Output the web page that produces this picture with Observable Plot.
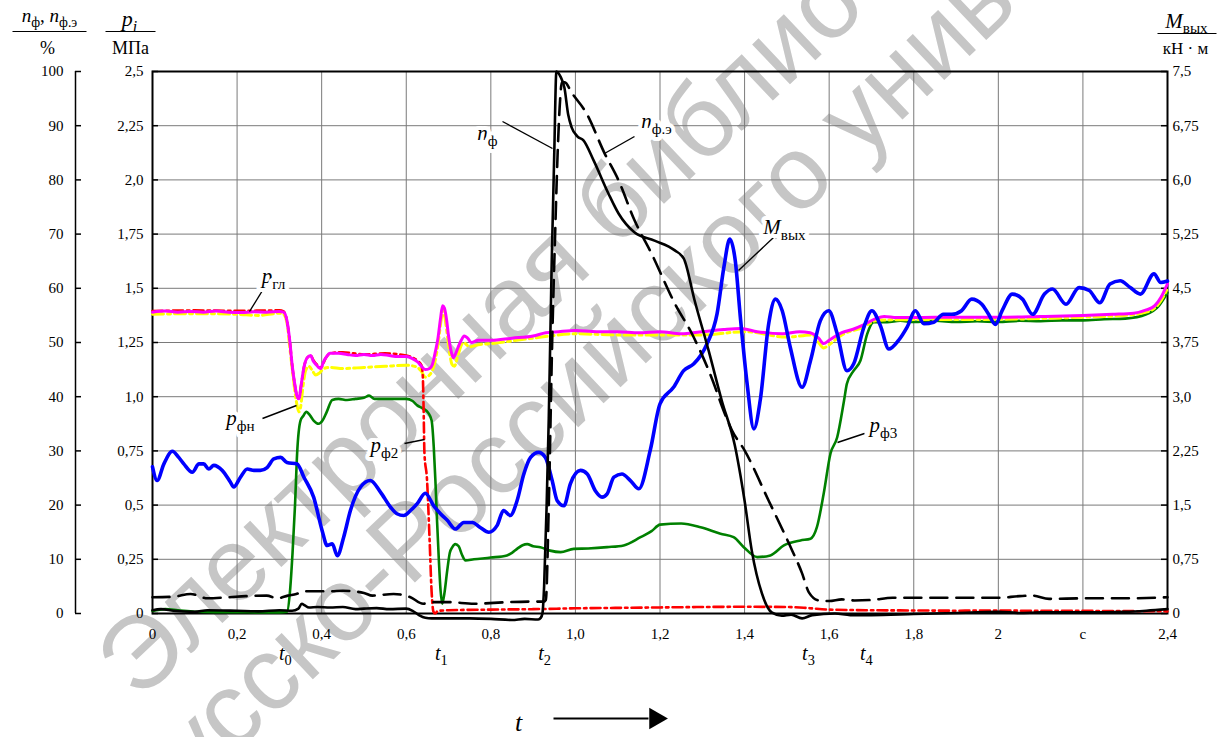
<!DOCTYPE html>
<html><head><meta charset="utf-8">
<script src="https://cdn.jsdelivr.net/npm/d3@7"></script>
<script src="https://cdn.jsdelivr.net/npm/@observablehq/plot@0.6"></script>
<style>html,body{margin:0;padding:0;background:#fff;overflow:hidden}#chart svg{display:block}</style>
</head><body><div id="chart"></div>
<script>
// ---------- data (t in s; pressures in MPa; n in %; torque in kN·m) ----------
const xTicks = [0,0.2,0.4,0.6,0.8,1.0,1.2,1.4,1.6,1.8,2.0,2.2,2.4];
const xTickLabels = ["0","0,2","0,4","0,6","0,8","1,0","1,2","1,4","1,6","1,8","2","с","2,4"];
const pctTicks = [0,10,20,30,40,50,60,70,80,90,100];
const pTicks = [0,0.25,0.5,0.75,1.0,1.25,1.5,1.75,2.0,2.25,2.5];
const pTickLabels = ["0","0,25","0,5","0,75","1,0","1,25","1,5","1,75","2,0","2,25","2,5"];
const mTicks = [0,0.75,1.5,2.25,3.0,3.75,4.5,5.25,6.0,6.75,7.5];
const mTickLabels = ["0","0,75","1,5","2,25","3,0","3,75","4,5","5,25","6,0","6,75","7,5"];
const tMarks = [["t_{0}",0.314],["t_{1}",0.683],["t_{2}",0.927],["t_{3}",1.551],["t_{4}",1.688]];

// p_гл (magenta), MPa
const pGl = [[0,1.39],[0.03,1.395],[0.06,1.39],[0.09,1.393],[0.12,1.39],[0.15,1.395],[0.18,1.39],[0.21,1.388],[0.24,1.392],[0.27,1.39],[0.30,1.393],[0.31,1.39],[0.318,1.35],[0.325,1.25],[0.330,1.15],[0.337,1.05],[0.342,1.0],[0.346,0.99],[0.352,1.06],[0.358,1.135],[0.366,1.18],[0.374,1.19],[0.380,1.165],[0.386,1.15],[0.393,1.135],[0.398,1.13],[0.404,1.16],[0.410,1.18],[0.420,1.20],[0.44,1.20],[0.46,1.195],[0.48,1.19],[0.50,1.195],[0.52,1.19],[0.54,1.195],[0.56,1.19],[0.58,1.185],[0.60,1.185],[0.615,1.175],[0.627,1.16],[0.636,1.14],[0.645,1.125],[0.655,1.13],[0.662,1.15],[0.668,1.20],[0.675,1.27],[0.681,1.36],[0.686,1.42],[0.690,1.41],[0.695,1.36],[0.700,1.28],[0.706,1.21],[0.711,1.18],[0.717,1.20],[0.723,1.23],[0.73,1.26],[0.737,1.28],[0.745,1.27],[0.754,1.25],[0.762,1.255],[0.77,1.26],[0.80,1.26],[0.85,1.27],[0.9,1.28],[0.93,1.295],[0.96,1.30],[1.0,1.305],[1.05,1.30],[1.1,1.30],[1.15,1.295],[1.2,1.30],[1.25,1.29],[1.3,1.30],[1.35,1.31],[1.39,1.315],[1.43,1.30],[1.49,1.29],[1.53,1.30],[1.555,1.295],[1.575,1.27],[1.587,1.245],[1.60,1.26],[1.63,1.296],[1.655,1.31],[1.68,1.33],[1.71,1.36],[1.73,1.37],[1.76,1.365],[1.8,1.365],[1.9,1.367],[2.0,1.366],[2.1,1.37],[2.2,1.375],[2.27,1.38],[2.32,1.385],[2.35,1.40],[2.37,1.42],[2.385,1.46],[2.395,1.5],[2.4,1.52]];
// p_фн (yellow dash-dot), MPa
const pFn = [[0,1.38],[0.1,1.383],[0.2,1.38],[0.25,1.375],[0.3,1.385],[0.31,1.38],[0.318,1.34],[0.325,1.22],[0.332,1.10],[0.340,0.98],[0.346,0.93],[0.350,0.95],[0.356,1.05],[0.362,1.12],[0.370,1.14],[0.378,1.12],[0.386,1.10],[0.395,1.11],[0.405,1.13],[0.42,1.135],[0.45,1.13],[0.5,1.135],[0.55,1.14],[0.6,1.145],[0.62,1.14],[0.635,1.12],[0.645,1.09],[0.655,1.10],[0.665,1.14],[0.675,1.24],[0.683,1.36],[0.688,1.40],[0.694,1.33],[0.700,1.24],[0.708,1.15],[0.714,1.14],[0.722,1.19],[0.735,1.25],[0.75,1.23],[0.77,1.24],[0.8,1.245],[0.9,1.27],[1.0,1.29],[1.1,1.285],[1.2,1.285],[1.3,1.285],[1.4,1.30],[1.5,1.275],[1.56,1.285],[1.575,1.25],[1.587,1.225],[1.6,1.24],[1.63,1.285],[1.68,1.32],[1.71,1.35],[1.76,1.355],[2.0,1.357],[2.2,1.367],[2.3,1.375],[2.35,1.39],[2.38,1.43],[2.4,1.50]];
// p_ф2 (red dash-dot), MPa
const pF2 = [[0,1.395],[0.1,1.398],[0.2,1.396],[0.3,1.398],[0.31,1.393],[0.318,1.35],[0.325,1.25],[0.33,1.15],[0.337,1.05],[0.342,1.0],[0.346,0.995],[0.352,1.06],[0.358,1.135],[0.366,1.18],[0.374,1.19],[0.38,1.17],[0.39,1.145],[0.398,1.135],[0.41,1.18],[0.42,1.20],[0.45,1.205],[0.5,1.195],[0.55,1.20],[0.6,1.19],[0.615,1.18],[0.627,1.165],[0.636,1.145],[0.639,1.10],[0.641,0.95],[0.643,0.74],[0.649,0.62],[0.655,0.35],[0.660,0.10],[0.664,0.01],[0.668,0.0],[0.675,0.012],[0.7,0.015],[0.8,0.018],[0.9,0.02],[1.0,0.024],[1.1,0.026],[1.2,0.028],[1.3,0.03],[1.4,0.031],[1.5,0.03],[1.55,0.025],[1.6,0.018],[1.7,0.015],[1.8,0.014],[1.9,0.013],[2.0,0.014],[2.1,0.012],[2.2,0.012],[2.3,0.011],[2.4,0.01]];
// p_ф3 (green), MPa
const pF3 = [[0,0.012],[0.03,0.02],[0.06,0.015],[0.1,0.008],[0.15,0.006],[0.2,0.006],[0.25,0.005],[0.3,0.005],[0.318,0.008],[0.325,0.1],[0.331,0.275],[0.337,0.5],[0.342,0.74],[0.350,0.89],[0.356,0.91],[0.364,0.93],[0.372,0.915],[0.381,0.89],[0.393,0.875],[0.402,0.89],[0.412,0.93],[0.425,0.985],[0.44,0.99],[0.46,0.985],[0.48,0.99],[0.5,0.995],[0.512,1.005],[0.525,0.99],[0.55,0.99],[0.6,0.99],[0.615,0.98],[0.626,0.96],[0.64,0.945],[0.652,0.925],[0.66,0.89],[0.665,0.77],[0.669,0.61],[0.673,0.42],[0.677,0.25],[0.681,0.11],[0.685,0.045],[0.690,0.09],[0.697,0.2],[0.703,0.28],[0.709,0.306],[0.716,0.32],[0.724,0.31],[0.732,0.27],[0.74,0.245],[0.76,0.25],[0.8,0.258],[0.838,0.268],[0.85,0.28],[0.862,0.298],[0.875,0.315],[0.886,0.32],[0.9,0.31],[0.917,0.306],[0.94,0.29],[0.965,0.283],[0.996,0.298],[1.03,0.30],[1.075,0.306],[1.114,0.314],[1.154,0.352],[1.18,0.38],[1.2,0.41],[1.25,0.415],[1.296,0.398],[1.343,0.368],[1.374,0.352],[1.398,0.306],[1.43,0.26],[1.461,0.268],[1.493,0.314],[1.532,0.337],[1.556,0.345],[1.571,0.398],[1.587,0.552],[1.603,0.737],[1.619,0.813],[1.635,0.98],[1.642,1.06],[1.658,1.12],[1.674,1.167],[1.69,1.29],[1.705,1.344],[1.737,1.344],[1.768,1.35],[1.8,1.345],[1.85,1.35],[1.9,1.345],[1.95,1.348],[2.0,1.345],[2.05,1.35],[2.1,1.348],[2.15,1.352],[2.2,1.352],[2.25,1.357],[2.3,1.36],[2.35,1.38],[2.38,1.42],[2.4,1.48]];
// M_вых (blue), kN·m
const mOut = [[0,2.03],[0.011,1.84],[0.027,2.07],[0.047,2.245],[0.062,2.16],[0.074,2.07],[0.094,1.955],[0.11,2.07],[0.121,2.07],[0.133,2.0],[0.145,2.05],[0.165,1.98],[0.184,1.82],[0.192,1.75],[0.208,1.886],[0.224,2.0],[0.24,1.98],[0.255,1.98],[0.271,2.02],[0.287,2.14],[0.303,2.16],[0.318,2.09],[0.342,2.07],[0.358,1.886],[0.381,1.61],[0.401,1.15],[0.413,0.94],[0.425,0.964],[0.437,0.80],[0.452,1.056],[0.468,1.425],[0.492,1.75],[0.515,1.84],[0.539,1.68],[0.563,1.47],[0.578,1.38],[0.594,1.356],[0.61,1.425],[0.626,1.52],[0.645,1.665],[0.665,1.49],[0.681,1.38],[0.697,1.29],[0.716,1.17],[0.736,1.26],[0.756,1.26],[0.775,1.19],[0.795,1.125],[0.815,1.22],[0.83,1.425],[0.846,1.356],[0.862,1.56],[0.878,1.93],[0.894,2.16],[0.913,2.23],[0.929,2.16],[0.945,1.84],[0.957,1.56],[0.973,1.49],[0.988,1.795],[1.012,1.98],[1.028,1.93],[1.047,1.70],[1.063,1.61],[1.075,1.656],[1.091,1.886],[1.11,1.93],[1.13,1.84],[1.15,1.726],[1.177,2.26],[1.2,2.9],[1.232,3.13],[1.256,3.36],[1.28,3.455],[1.311,3.73],[1.335,4.15],[1.351,4.79],[1.365,5.18],[1.378,4.88],[1.39,4.1],[1.406,3.18],[1.422,2.555],[1.437,2.95],[1.457,4.01],[1.473,4.35],[1.489,4.19],[1.508,3.685],[1.536,3.13],[1.556,3.5],[1.579,4.05],[1.599,4.19],[1.619,3.87],[1.642,3.36],[1.658,3.455],[1.682,3.96],[1.701,4.19],[1.721,3.985],[1.741,3.66],[1.764,3.78],[1.784,3.96],[1.804,4.19],[1.824,4.01],[1.847,4.03],[1.87,4.14],[1.89,4.14],[1.913,4.19],[1.937,4.35],[1.961,4.28],[1.977,4.14],[1.993,4.0],[2.009,4.19],[2.033,4.42],[2.057,4.35],[2.081,4.14],[2.109,4.42],[2.128,4.49],[2.16,4.28],[2.191,4.51],[2.215,4.47],[2.24,4.3],[2.264,4.56],[2.288,4.605],[2.312,4.51],[2.336,4.42],[2.368,4.70],[2.384,4.58],[2.4,4.6]];
// n_ф (black solid), %
const nF = [[0,0.6],[0.02,0.8],[0.05,0.5],[0.1,0.3],[0.13,0.6],[0.2,0.5],[0.25,0.4],[0.3,0.6],[0.33,0.5],[0.345,0.9],[0.353,1.8],[0.36,1.5],[0.37,1.1],[0.39,1.2],[0.42,1.1],[0.45,1.2],[0.48,0.8],[0.5,0.9],[0.53,1.0],[0.56,0.8],[0.6,0.9],[0.615,0.5],[0.63,-0.3],[0.645,-0.8],[0.66,-0.9],[0.7,-0.9],[0.75,-0.9],[0.8,-1.0],[0.85,-1.2],[0.88,-1.0],[0.912,-1.1],[0.918,-0.8],[0.922,0],[0.926,5],[0.932,20],[0.937,36],[0.944,65],[0.950,85],[0.955,100],[0.965,99],[0.974,97],[0.983,92],[0.991,89.7],[1.005,88],[1.019,87.3],[1.043,83.6],[1.078,77.5],[1.102,73.8],[1.14,70.3],[1.187,68.8],[1.235,67.0],[1.256,65.5],[1.282,57.7],[1.315,48.5],[1.346,39.3],[1.377,31],[1.40,20.8],[1.417,11.6],[1.441,3.7],[1.464,0.2],[1.488,-0.4],[1.51,-0.2],[1.536,-0.9],[1.56,-0.3],[1.614,0],[1.65,-0.3],[1.7,-0.3],[1.8,-0.1],[1.9,0.1],[2.0,0.3],[2.05,0.1],[2.1,0.2],[2.2,0.2],[2.3,0.3],[2.35,0.5],[2.4,0.8]];
// n_ф.э (black dashed), %
const nFe = [[0,3.0],[0.05,3.1],[0.09,3.6],[0.13,2.8],[0.18,3.0],[0.22,3.2],[0.27,3.3],[0.295,2.8],[0.32,3.3],[0.34,3.6],[0.36,4.1],[0.42,4.1],[0.45,4.2],[0.5,3.8],[0.52,3.3],[0.57,3.6],[0.61,3.0],[0.64,1.8],[0.665,2.1],[0.7,2.1],[0.76,1.8],[0.84,2.1],[0.9,2.2],[0.925,2.2],[0.93,2.5],[0.937,20],[0.945,50],[0.952,70],[0.958,85],[0.964,95],[0.968,98],[0.975,98],[0.991,96.1],[1.026,92.3],[1.069,84.9],[1.102,79.9],[1.14,72.5],[1.18,66.4],[1.235,57.2],[1.275,51.7],[1.322,43.5],[1.353,36.9],[1.37,33.8],[1.40,30.1],[1.457,20.8],[1.505,12.9],[1.536,7.4],[1.552,3.9],[1.576,2.4],[1.6,2.3],[1.63,2.6],[1.66,2.4],[1.7,2.5],[1.75,2.9],[1.8,2.9],[1.9,2.9],[2.0,2.9],[2.05,3.2],[2.08,3.3],[2.12,2.7],[2.2,2.8],[2.3,2.8],[2.4,3.0]];

// labels with leader lines (pixel positions of label centre and leader ends)
const notes = [
  {text:"p_{гл}", tx:273, ty:276, x1:262, y1:290, x2:249, y2:311},
  {text:"p_{фн}", tx:240, ty:418, x1:262, y1:418, x2:296, y2:405},
  {text:"p_{ф2}", tx:384, ty:445, x1:404, y1:443, x2:424, y2:439},
  {text:"n_{ф}", tx:487, ty:133, x1:502, y1:121, x2:552, y2:148},
  {text:"n_{ф.э}", tx:656, ty:121, x1:634, y1:136, x2:604, y2:153},
  {text:"M_{вых}", tx:784, ty:227, x1:773, y1:237, x2:738, y2:270},
  {text:"p_{ф3}", tx:883, ty:425, x1:864, y1:433, x2:837, y2:442}
];
const watermark = ["Электронная библиотека", "Белорусско-Российского университета"];

// ---------- layout ----------
const W=1223, H=737, ML=152, MR=56, MT=71, MB=124;
const X = px => (px-ML)/(W-ML-MR)*2.4;      // pixel -> t
const Y = py => (H-MB-py)/(H-MB-MT)*100;    // pixel -> %
const P = p => p*40;          // MPa -> % scale
const Mv = m => m/7.5*100;    // kN·m -> % scale
const FONT = '"Liberation Serif", "Times New Roman", "DejaVu Serif", serif';
const gx = d => d[0];
const T = o => Object.assign({fontFamily: FONT, fill: "black"}, o);

const chart = Plot.plot({
  width: W, height: H,
  marginLeft: ML, marginRight: MR, marginTop: MT, marginBottom: MB,
  x: {domain:[0,2.4], axis:null},
  y: {domain:[0,100], axis:null},
  style: {background:"#fff"},
  marks: [
    // watermark
    Plot.text([watermark[0]], {text:d=>d, frameAnchor:"top-left", dx:138-ML, dy:702-MT, rotate:-43.5, fontSize:104, fontFamily:"Liberation Sans, Arial, sans-serif", fill:"#c6c6c6", textAnchor:"start", lineAnchor:"bottom"}),
    Plot.text([watermark[1]], {text:d=>d, frameAnchor:"top-left", dx:-22-ML, dy:996-MT, rotate:-43.5, fontSize:104, fontFamily:"Liberation Sans, Arial, sans-serif", fill:"#c6c6c6", textAnchor:"start", lineAnchor:"bottom"}),
    // grid
    Plot.ruleX(xTicks, {stroke:"#7a7a7a", strokeWidth:1}),
    Plot.ruleY(pctTicks, {stroke:"#7a7a7a", strokeWidth:1}),
    // inner tick marks
    Plot.ruleY(pctTicks, {x1:0, x2:X(ML+6), stroke:"black", strokeWidth:1.5}),
    Plot.ruleY(pctTicks, {x1:X(W-MR-6), x2:2.4, stroke:"black", strokeWidth:1.5}),
    Plot.frame({stroke:"black", strokeWidth:2}),
    // separate % axis
    Plot.ruleX([X(75)], {y1:0, y2:100, stroke:"black", strokeWidth:1.5}),
    Plot.ruleY(pctTicks, {x1:X(75), x2:X(81), stroke:"black", strokeWidth:1.5}),
    // series
    Plot.line(pF3, {x:gx, y:d=>P(d[1]), stroke:"#008000", strokeWidth:2.6, curve:"monotone-x"}),
    Plot.line(pFn, {x:gx, y:d=>P(d[1]), stroke:"#ffff00", strokeWidth:3, strokeDasharray:"11,4,3,4", curve:"monotone-x"}),
    Plot.line(pF2, {x:gx, y:d=>P(d[1]), stroke:"#ff0000", strokeWidth:2.6, strokeDasharray:"10,4,2.5,4", curve:"monotone-x"}),
    Plot.line(pGl, {x:gx, y:d=>P(d[1]), stroke:"#ff00ff", strokeWidth:3, curve:"monotone-x"}),
    Plot.line(mOut, {x:gx, y:d=>Mv(d[1]), stroke:"#0000ff", strokeWidth:3.6, curve:"monotone-x"}),
    Plot.line(nFe, {x:gx, y:d=>d[1], stroke:"black", strokeWidth:2.6, strokeDasharray:"17,9", curve:"monotone-x"}),
    Plot.line(nF, {x:gx, y:d=>d[1], stroke:"black", strokeWidth:2.6, curve:"monotone-x"}),
    // leaders + labels
    Plot.link(notes, {x1:d=>X(d.x1), y1:d=>Y(d.y1), x2:d=>X(d.x2), y2:d=>Y(d.y2), stroke:"black", strokeWidth:1.4}),
    Plot.text(notes, T({x:d=>X(d.tx), y:d=>Y(d.ty), text:d=>d.text, fontSize:21, stroke:"white", strokeWidth:8, lineAnchor:"middle", textAnchor:"middle"})),
    // tick labels
    Plot.text(xTicks, T({x:d=>d, text:(d,i)=>xTickLabels[i], frameAnchor:"bottom", dy:21, lineAnchor:"middle", textAnchor:"middle", fontSize:15})),
    Plot.text(pctTicks, T({y:d=>d, text:d=>String(d), frameAnchor:"left", dx:63-ML, textAnchor:"end", lineAnchor:"middle", fontSize:15})),
    Plot.text(pTicks, T({y:d=>P(d), text:(d,i)=>pTickLabels[i], frameAnchor:"left", dx:-9, textAnchor:"end", lineAnchor:"middle", fontSize:15})),
    Plot.text(mTicks, T({y:d=>Mv(d), text:(d,i)=>mTickLabels[i], frameAnchor:"right", dx:5, textAnchor:"start", lineAnchor:"middle", fontSize:15})),
    Plot.text(tMarks, T({x:d=>d[1], text:d=>d[0], frameAnchor:"bottom", dy:40, lineAnchor:"middle", textAnchor:"middle", fontSize:20})),
    // axis titles
    Plot.text(["n_{ф}, n_{ф.э}"], T({text:d=>d, frameAnchor:"top-left", dx:49-ML, dy:21-MT, lineAnchor:"bottom", textAnchor:"middle", fontSize:19})),
    Plot.text(["%"], T({text:d=>d, frameAnchor:"top-left", dx:47-ML, dy:53-MT, lineAnchor:"bottom", textAnchor:"middle", fontSize:18})),
    Plot.text(["p_{i}"], T({text:d=>d, frameAnchor:"top-left", dx:129-ML, dy:25-MT, lineAnchor:"bottom", textAnchor:"middle", fontSize:22})),
    Plot.text(["МПа"], T({text:d=>d, frameAnchor:"top-left", dx:130-ML, dy:53-MT, lineAnchor:"bottom", textAnchor:"middle", fontSize:18})),
    Plot.text(["M_{вых}"], T({text:d=>d, frameAnchor:"top-right", dx:1186-(W-MR), dy:27-MT, lineAnchor:"bottom", textAnchor:"middle", fontSize:21})),
    Plot.text(["кН · м"], T({text:d=>d, frameAnchor:"top-right", dx:1185-(W-MR), dy:53-MT, lineAnchor:"bottom", textAnchor:"middle", fontSize:17})),
    Plot.link([0], {x1:()=>X(12), x2:()=>X(86), y1:()=>Y(31), y2:()=>Y(31), stroke:"black", strokeWidth:1}),
    Plot.link([0], {x1:()=>X(105), x2:()=>X(155), y1:()=>Y(31), y2:()=>Y(31), stroke:"black", strokeWidth:1}),
    Plot.link([0], {x1:()=>X(1157), x2:()=>X(1216), y1:()=>Y(33), y2:()=>Y(33), stroke:"black", strokeWidth:1}),
    // time arrow
    Plot.text(["t"], T({text:d=>d, frameAnchor:"top-left", dx:518-ML, dy:722-MT, lineAnchor:"middle", textAnchor:"middle", fontSize:26, fontStyle:"italic"})),
    Plot.link([0], {x1:()=>X(553), x2:()=>X(648), y1:()=>Y(718), y2:()=>Y(718), stroke:"black", strokeWidth:2}),
    Plot.dot([0], {x:()=>X(655), y:()=>Y(718), symbol:"triangle", rotate:90, r:8, fill:"black", stroke:"none"})
  ]
});

// subscripts & italic variables
function richify(svg){
  const NS = "http://www.w3.org/2000/svg";
  svg.querySelectorAll("text").forEach(t => {
    const s = t.textContent;
    if (!s.includes("_{")) return;
    const parts = []; const re = /_\{([^}]*)\}/g; let last = 0, m;
    while ((m = re.exec(s))) { parts.push({t:s.slice(last, m.index), sub:false}); parts.push({t:m[1], sub:true}); last = re.lastIndex; }
    parts.push({t:s.slice(last), sub:false});
    t.textContent = "";
    let shifted = false;
    const mk = (txt) => { const ts = document.createElementNS(NS, "tspan"); ts.textContent = txt; return ts; };
    for (const p of parts) {
      if (!p.t) continue;
      if (p.sub) {
        const ts = mk(p.t);
        ts.setAttribute("font-size", "0.72em");
        ts.setAttribute("font-style", /^[A-Za-z]+$/.test(p.t) ? "italic" : "normal");
        ts.setAttribute("dy", "0.38em");
        shifted = true; t.appendChild(ts);
      } else {
        const runs = p.t.match(/[A-Za-z]+|[^A-Za-z]+/g) || [];
        for (const r of runs) {
          const ts = mk(r);
          ts.setAttribute("font-style", /[A-Za-z]/.test(r) ? "italic" : "normal");
          if (shifted) { ts.setAttribute("dy", "-0.274em"); shifted = false; }
          t.appendChild(ts);
        }
      }
    }
  });
}
richify(chart);
document.getElementById("chart").appendChild(chart);
</script></body></html>
